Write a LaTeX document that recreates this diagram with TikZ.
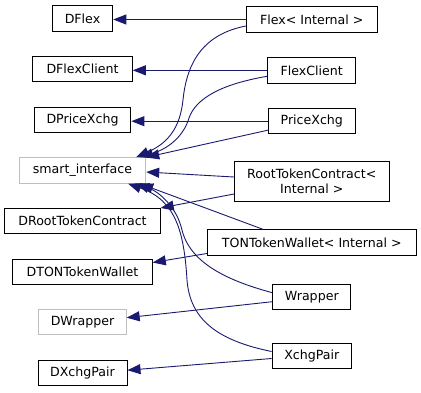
\documentclass[tikz,border=0pt]{standalone}
\usepackage{fontspec}
\setmainfont{DejaVu Sans}
\usetikzlibrary{arrows.meta}
\definecolor{edgeblue}{HTML}{191970}
\definecolor{boxgray}{HTML}{BFBFBF}

\begin{document}
\begin{tikzpicture}[x=1pt,y=-1pt,
  cls/.style={draw=black, line width=1pt, inner sep=0pt, minimum height=25.5pt,
    font=\fontsize{12.6}{15}\selectfont, align=center},
  nodoc/.style={cls, draw=boxgray},
  inh/.style={draw=edgeblue, line width=0.9pt, -{Triangle[length=13pt,width=10pt]}}]
 \useasboundingbox (0,0) rectangle (421,392);
 % bases
 \node[cls, minimum width=60.5pt] (dflex) at (82.5,18.5) {DFlex};
 \node[cls, minimum width=99.6pt] (dflexclient) at (82.5,69.2) {DFlexClient};
 \node[cls, minimum width=96.7pt] (dpricexchg) at (82.5,120) {DPriceXchg};
 \node[nodoc, minimum width=126.4pt] (si) at (82.5,170.5) {smart\_interface};
 \node[cls, minimum width=155.3pt] (droot) at (82.5,221.2) {DRootTokenContract};
 \node[cls, minimum width=139.6pt] (dton) at (82.5,272) {DTONTokenWallet};
 \node[nodoc, minimum width=87.3pt] (dwrapper) at (82.5,322.2) {DWrapper};
 \node[cls, minimum width=89pt] (dxchgpair) at (82.5,373.2) {DXchgPair};
 % derived
 \node[cls, minimum width=131pt] (flex) at (311.8,19.5) {Flex< Internal >};
 \node[cls, minimum width=88.3pt] (flexclient) at (311.8,70.3) {FlexClient};
 \node[cls, minimum width=87pt] (pricexchg) at (311.8,121.2) {PriceXchg};
 \node[cls, minimum width=154.6pt, minimum height=40pt] (root) at (311.8,181) {RootTokenContract<\\Internal >};
 \node[cls, minimum width=208.7pt] (ton) at (311.8,242.5) {TONTokenWallet< Internal >};
 \node[cls, minimum width=78pt] (wrapper) at (311.8,297.2) {Wrapper};
 \node[cls, minimum width=79.4pt] (xchgpair) at (311.8,356) {XchgPair};

 \draw[inh] (flex.west) -- (flex.west -| dflex.east);
 \draw[inh] ([yshift=-6.5pt]flex.west) .. controls (205,34) and (187,60) .. (183,100)
   .. controls (180,128) and (168,143) .. ([xshift=-10pt]si.north east);
 \draw[inh] (flexclient.west) -- (flexclient.west -| dflexclient.east);
 \draw[inh] ([yshift=-6pt]flexclient.west) .. controls (222,84) and (196,98) .. (189,118)
   .. controls (184,135) and (170,148) .. ([xshift=-6pt]si.north east);
 \draw[inh] (pricexchg.west) -- (pricexchg.west -| dpricexchg.east);
 \draw[inh] ([yshift=-9pt]pricexchg.west) -- (si.north east);
 \draw[inh] ([yshift=4pt]root.west) -- ([yshift=-1.5pt]si.east);
 \draw[inh] ([yshift=-13pt]root.west) -- (droot.north east);
 \draw[inh] ([xshift=-49pt]ton.north) -- ([xshift=-6pt]si.south east);
 \draw[inh] ([yshift=-11pt]ton.west) -- ([yshift=9.5pt]dton.east);
 \draw[inh] ([yshift=4.5pt]wrapper.west) .. controls (225,280) and (190,262) .. (182,230)
   .. controls (177,208) and (160,192) .. ([xshift=-10pt]si.south east);
 \draw[inh] ([yshift=-4.5pt]wrapper.west) -- ([yshift=4.5pt]dwrapper.east);
 \draw[inh] ([yshift=4.5pt]xchgpair.west) .. controls (215,340) and (190,318) .. (187,280)
   .. controls (184,230) and (175,200) .. ([xshift=-18pt]si.south east);
 \draw[inh] ([yshift=-2.5pt]xchgpair.west) -- ([yshift=3pt]dxchgpair.east);
\end{tikzpicture}
\end{document}
